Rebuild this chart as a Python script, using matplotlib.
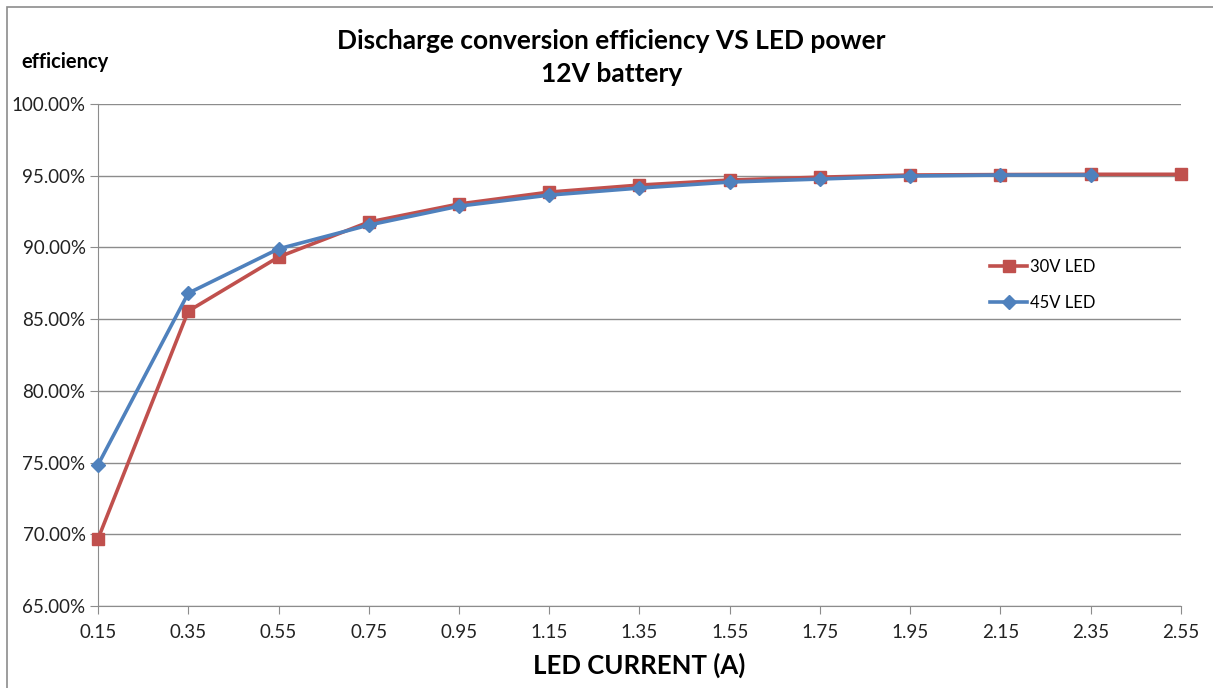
import matplotlib.pyplot as plt
from matplotlib.patches import Rectangle
from matplotlib.ticker import FuncFormatter

plt.rcParams['font.family'] = ['Lato', 'DejaVu Sans']

# LED current (A)
current = [0.15, 0.35, 0.55, 0.75, 0.95, 1.15, 1.35, 1.55, 1.75, 1.95, 2.15, 2.35, 2.55]
current_45 = current[:-1]

# efficiency (%)
eff_30v = [69.68, 85.56, 89.33, 91.77, 93.03, 93.86, 94.35, 94.70, 94.90, 95.05, 95.08, 95.10, 95.10]
eff_45v = [74.84, 86.81, 89.90, 91.56, 92.88, 93.65, 94.14, 94.56, 94.77, 94.98, 95.05, 95.05]

yticks = [65, 70, 75, 80, 85, 90, 95, 100]

fig = plt.figure(figsize=(12.13, 6.88), dpi=100)
fig.patches.append(Rectangle((0.006, -0.01), 1.1, 1.0, transform=fig.transFigure,
                             fill=False, edgecolor='#8c8c8c', linewidth=1.2))
ax = fig.add_axes([0.0808, 0.1192, 0.8928, 0.7296])

ax.plot(current, eff_30v, color='#C0504D', lw=2.6, marker='s', markersize=9,
        label='30V LED', clip_on=False, zorder=3)
ax.plot(current_45, eff_45v, color='#4F81BD', lw=2.6, marker='D', markersize=7,
        label='45V LED', clip_on=False, zorder=4)

ax.set_xlim(0.15, 2.55)
ax.set_ylim(65, 100)
ax.set_xticks(current)
ax.set_xticklabels([f"{c:.2f}" for c in current])
ax.set_yticks(yticks)
ax.yaxis.set_major_formatter(FuncFormatter(lambda v, p: f"{v:.2f}%"))
ax.grid(axis='y', color='#8c8c8c', lw=1)
ax.set_axisbelow(True)
for s in ['top', 'right']:
    ax.spines[s].set_visible(False)
for s in ['left', 'bottom']:
    ax.spines[s].set_color('#8c8c8c')
ax.tick_params(axis='both', colors='#8c8c8c', labelcolor='#222222', labelsize=13.5, length=6)
ax.tick_params(axis='x', pad=7)
ax.tick_params(axis='y', pad=3)

ax.set_xlabel('LED CURRENT (A)', fontsize=18.5, fontweight='bold', labelpad=8)
fig.text(0.504, 0.916, 'Discharge conversion efficiency VS LED power\n12V battery',
         ha='center', va='center', fontsize=19, fontweight='bold', linespacing=1.45)
fig.text(0.018, 0.91, 'efficiency', fontsize=14.5, fontweight='bold', va='center')

ax.legend(loc='center left', bbox_to_anchor=(0.81, 0.64), frameon=False, fontsize=12,
          handlelength=2.2, labelspacing=1.2, handletextpad=0.2)

fig.savefig('out.png', dpi=100)
